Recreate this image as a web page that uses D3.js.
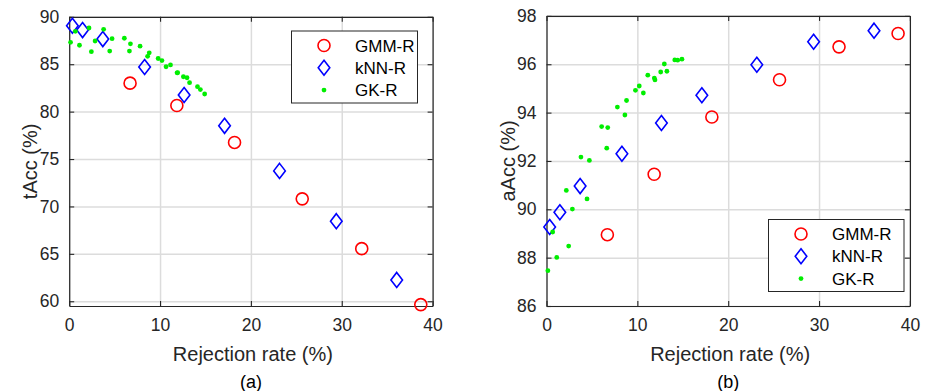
<!DOCTYPE html>
<html><head><meta charset="utf-8">
<script src="https://cdn.jsdelivr.net/npm/d3@7/dist/d3.min.js"></script>
<style>
html,body{margin:0;padding:0;background:#fff;}
text{font-family:Arial,"Liberation Sans",Helvetica,sans-serif;}
</style></head>
<body><svg id="c" width="925" height="391"></svg>
<script>
// ---- data ----
const gmmRate = [6.7, 11.85, 18.2, 25.65, 32.2, 38.7];
const gmmTAcc = [83.0, 80.65, 76.75, 70.8, 65.55, 59.65];
const gmmAAcc = [88.95, 91.45, 93.82, 95.36, 96.72, 97.27];

const knnRate = [0.35, 1.47, 3.7, 8.3, 12.65, 17.1, 23.15, 29.4, 36.05];
const knnTAcc = [89.05, 88.6, 87.65, 84.7, 81.75, 78.5, 73.75, 68.45, 62.25];
const knnAAcc = [89.27, 89.88, 90.96, 92.3, 93.57, 94.72, 95.98, 96.93, 97.39];

const gkRate = [0.15, 0.68, 1.13, 2.18, 2.44, 2.85, 3.79, 4.46, 4.72, 6.07, 6.63, 6.74, 7.8, 8.63, 8.81, 9.79, 10.21, 10.66, 11.15, 11.87, 11.94, 12.57, 12.97, 13.25, 14.12, 14.44, 14.91];
const gkTAcc = [87.31, 88.47, 87.0, 88.82, 86.32, 87.45, 88.68, 86.39, 87.69, 87.74, 86.38, 87.15, 86.9, 85.83, 86.2, 85.6, 85.38, 84.73, 84.92, 84.09, 84.1, 83.68, 83.57, 83.05, 82.63, 82.32, 81.86];
const gkAAcc = [87.46, 89.06, 88.01, 90.78, 88.48, 90.01, 92.16, 90.43, 92.02, 93.42, 92.53, 93.38, 94.23, 93.9, 94.5, 94.92, 95.1, 94.81, 95.55, 95.43, 95.35, 95.68, 96.01, 95.71, 96.18, 96.17, 96.21];

const xTicks = [0, 10, 20, 30, 40];
const yTicksA = [60, 65, 70, 75, 80, 85, 90];
const yTicksB = [86, 88, 90, 92, 94, 96, 98];
const seriesNames = ["GMM-R", "kNN-R", "GK-R"];

// ---- drawing ----
const svg = d3.select("#c");
const COL = {gmm: "#ff0000", knn: "#0000ff", gk: "#00ee00", axis: "#262626", grid: "#dcdcdc"};

function drawPanel(o) {
  const x = d3.scaleLinear().domain([0, 40]).range([o.left, o.right]);
  const y = d3.scaleLinear().domain(o.ydom).range([o.bottom, o.top]);
  const W = o.right - o.left, H = o.bottom - o.top;
  const g = svg.append("g");

  // grid
  g.append("g").attr("transform", `translate(0,${o.bottom})`)
    .call(d3.axisBottom(x).tickValues(xTicks).tickSize(-H).tickFormat(""))
    .call(s => { s.select(".domain").remove(); s.selectAll("line").attr("stroke", COL.grid).attr("stroke-width", 1.5); });
  g.append("g").attr("transform", `translate(${o.left},0)`)
    .call(d3.axisLeft(y).tickValues(o.yTicks).tickSize(-W).tickFormat(""))
    .call(s => { s.select(".domain").remove(); s.selectAll("line").attr("stroke", COL.grid).attr("stroke-width", 1.5); });

  // axes (ticks inward, box)
  const styleAx = s => { s.select(".domain").attr("stroke", COL.axis).attr("stroke-width", 1.2);
    s.selectAll(".tick line").attr("stroke", COL.axis).attr("stroke-width", 1.1);
    s.selectAll("text").attr("fill", "#262626").style("font-size", "17.5px").style("font-family", "Arial, 'Liberation Sans', sans-serif"); };
  g.append("g").attr("transform", `translate(0,${o.bottom})`)
    .call(d3.axisBottom(x).tickValues(xTicks).tickSizeInner(-5).tickSizeOuter(0).tickPadding(13)).call(styleAx);
  g.append("g").attr("transform", `translate(0,${o.top})`)
    .call(d3.axisTop(x).tickValues(xTicks).tickSizeInner(-5).tickSizeOuter(0).tickFormat("")).call(styleAx);
  g.append("g").attr("transform", `translate(${o.left},0)`)
    .call(d3.axisLeft(y).tickValues(o.yTicks).tickSizeInner(-5).tickSizeOuter(0).tickPadding(10)).call(styleAx);
  g.append("g").attr("transform", `translate(${o.right},0)`)
    .call(d3.axisRight(y).tickValues(o.yTicks).tickSizeInner(-5).tickSizeOuter(0).tickFormat("")).call(styleAx);

  // data
  const d = g.append("g");
  d.selectAll("circle.gmm").data(gmmRate.map((r, i) => [r, o.gmm[i]])).join("circle")
    .attr("cx", p => x(p[0])).attr("cy", p => y(p[1])).attr("r", 6)
    .attr("fill", "none").attr("stroke", COL.gmm).attr("stroke-width", 1.6);
  d.selectAll("path.knn").data(knnRate.map((r, i) => [r, o.knn[i]])).join("path")
    .attr("d", p => { const cx = x(p[0]), cy = y(p[1]); return `M${cx},${cy-7.5}L${cx+5.8},${cy}L${cx},${cy+7.5}L${cx-5.8},${cy}Z`; })
    .attr("fill", "none").attr("stroke", COL.knn).attr("stroke-width", 1.6);
  d.selectAll("circle.gk").data(gkRate.map((r, i) => [r, o.gk[i]])).join("circle")
    .attr("cx", p => x(p[0])).attr("cy", p => y(p[1])).attr("r", 2.4).attr("fill", COL.gk);

  // labels
  svg.append("text").attr("x", (o.left + o.right) / 2 + 2).attr("y", 361).attr("text-anchor", "middle")
    .style("font-size", "20px").attr("fill", "#262626").text("Rejection rate (%)");
  svg.append("text").attr("transform", `translate(${o.ylabX},${(o.top + o.bottom) / 2}) rotate(-90)`)
    .attr("text-anchor", "middle").style("font-size", "20px").attr("fill", "#262626").text(o.ylabel);
  svg.append("text").attr("x", (o.left + o.right) / 2).attr("y", 388).attr("text-anchor", "middle")
    .style("font-size", "18px").attr("fill", "#000").text(o.tag);

  // legend
  const L = o.legend;
  const lg = svg.append("g");
  lg.append("rect").attr("x", L.x).attr("y", L.y).attr("width", L.w).attr("height", L.h)
    .attr("fill", "#fff").attr("stroke", "#262626").attr("stroke-width", 1);
  const mx = L.x + 32.5, tx = L.x + 63.5;
  seriesNames.forEach((nm, i) => {
    const cy = L.y + 14.5 + i * 22.3;
    if (i === 0) lg.append("circle").attr("cx", mx).attr("cy", cy).attr("r", 6).attr("fill", "none").attr("stroke", COL.gmm).attr("stroke-width", 1.6);
    if (i === 1) lg.append("path").attr("d", `M${mx},${cy-7.5}L${mx+5.8},${cy}L${mx},${cy+7.5}L${mx-5.8},${cy}Z`).attr("fill", "none").attr("stroke", COL.knn).attr("stroke-width", 1.6);
    if (i === 2) lg.append("circle").attr("cx", mx).attr("cy", cy).attr("r", 2.4).attr("fill", COL.gk);
    lg.append("text").attr("x", tx).attr("y", cy + 6).style("font-size", "17px").attr("fill", "#000").text(nm);
  });
}

drawPanel({id: "a", left: 69.2, right: 432.6, top: 16.8, bottom: 306, ydom: [59.5, 90], yTicks: yTicksA,
  gmm: gmmTAcc, knn: knnTAcc, gk: gkTAcc, ylabel: "tAcc (%)", ylabX: 37, tag: "(a)",
  legend: {x: 291.5, y: 31, w: 126, h: 72}});
drawPanel({id: "b", left: 546.5, right: 909.9, top: 15.9, bottom: 306, ydom: [86, 98], yTicks: yTicksB,
  gmm: gmmAAcc, knn: knnAAcc, gk: gkAAcc, ylabel: "aAcc (%)", ylabX: 515, tag: "(b)",
  legend: {x: 768.5, y: 219.5, w: 135.5, h: 72}});
</script></body></html>
